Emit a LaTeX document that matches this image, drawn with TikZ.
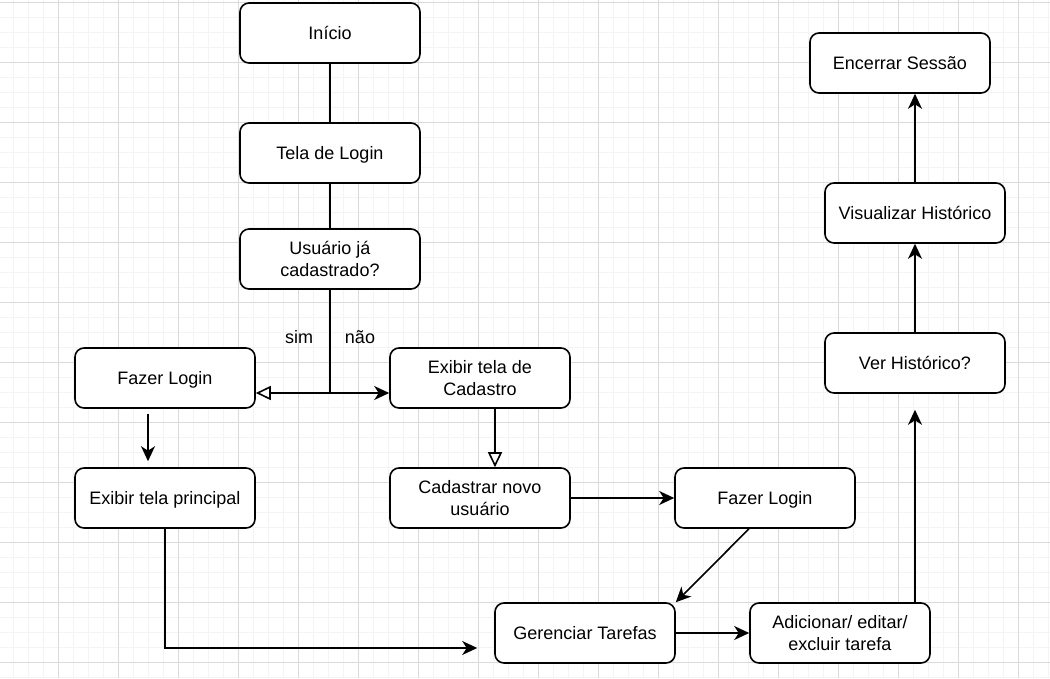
\documentclass[tikz,border=0pt]{standalone}
\usepackage{fontspec}
\setmainfont{Liberation Sans}
\usetikzlibrary{arrows.meta}
\definecolor{gridminor}{HTML}{F4F4F4}
\definecolor{gridmajor}{HTML}{DADADA}
\begin{document}
\begin{tikzpicture}[x=1pt,y=-1pt,
  box/.style={draw, line width=1.6pt, rounded corners=9pt, fill=white,
    minimum width=180pt, minimum height=60pt, align=center, inner sep=0pt,
    font=\fontsize{18}{22}\selectfont, text=black},
  one/.style={text height=13pt, text depth=0pt},
  lbl/.style={font=\fontsize{18}{22}\selectfont, text=black, inner sep=0pt},
  conn/.style={line width=1.6pt},
  arr/.style={conn, -{Stealth[length=15pt,width=14pt,inset=4.5pt]}},
  openarr/.style={conn, -{Triangle[open,fill=white,length=15pt,width=14pt]}},
  minorline/.style={gridminor, line width=1pt},
  majorline/.style={gridmajor, line width=1pt}]
\useasboundingbox (0,0) rectangle (1050,678);
\fill[white] (0,0) rectangle (1050,678);
% grid
\foreach \x in {13,28,...,1050} \draw[minorline] (\x,0) -- (\x,678);
\foreach \y in {2,17,...,678} \draw[minorline] (0,\y) -- (1050,\y);
\foreach \x in {58,118,...,1050} \draw[majorline] (\x,0) -- (\x,678);
\foreach \y in {2,62,...,678} \draw[majorline] (0,\y) -- (1050,\y);
% nodes
\node[box,one] (ini) at (330,33) {Início};
\node[box,one] (tl) at (330,153) {Tela de Login};
\node[box] (uc) at (330,259) {Usuário já\\cadastrado?};
\node[box,one] (fl1) at (165,378) {Fazer Login};
\node[box] (etc) at (480,378) {Exibir tela de\\Cadastro};
\node[box,one] (etp) at (165,498) {Exibir tela principal};
\node[box] (cnu) at (480,498) {Cadastrar novo\\usuário};
\node[box,one] (fl2) at (765,498) {Fazer Login};
\node[box,one] (gt) at (585,633) {Gerenciar Tarefas};
\node[box] (aet) at (840,633) {Adicionar/ editar/\\excluir tarefa};
\node[box,one] (vh) at (915,363) {Ver Histórico?};
\node[box,one] (vzh) at (915,213) {Visualizar Histórico};
\node[box,one] (es) at (900,63) {Encerrar Sessão};
\node[lbl,one] (sim) at (299,337) {sim};
\node[lbl,one] (nao) at (360,337) {não};
% connectors
\coordinate (j) at (330,393);
\draw[conn] (ini) -- (tl);
\draw[conn] (tl) -- (uc);
\draw[conn] (uc.south) -- (j);
\draw[openarr] (j) -- (fl1.east |- j);
\draw[arr] (j) -- (etc.west |- j);
\draw[arr] ([xshift=-17pt,yshift=-5pt]fl1.south) -- ([xshift=-17pt,yshift=6pt]etp.north);
\draw[openarr] ([xshift=15pt]etc.south) -- ([xshift=15pt]cnu.north);
\draw[arr] (cnu) -- (fl2);
\draw[arr] ([xshift=-16pt]fl2.south) -- (gt.north east);
\draw[arr] (etp.south) |- ([xshift=-17pt,yshift=-15pt]gt.west);
\draw[arr] (gt) -- (aet);
\draw[arr] ([xshift=75pt]aet.north) -- ([yshift=-16pt]vh.south);
\draw[arr] (vh) -- (vzh);
\draw[arr] (vzh.north) -- (vzh.north |- es.south);
\end{tikzpicture}
\end{document}
